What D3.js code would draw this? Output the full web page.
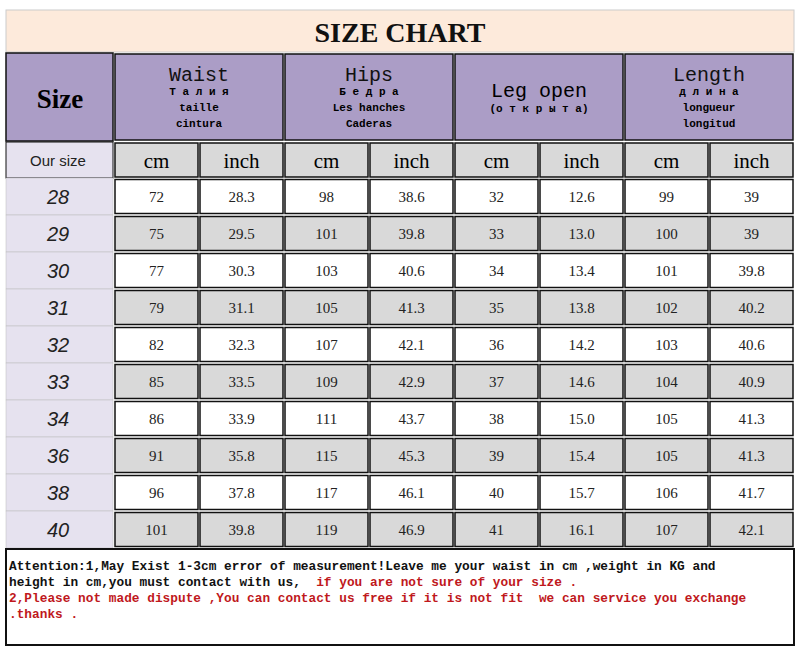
<!DOCTYPE html><html><head><meta charset="utf-8"><script src="https://cdn.jsdelivr.net/npm/d3@7"></script>
<style>body{margin:0;background:#fff}</style></head><body><svg id="c" width="800" height="652"></svg><script>
const sizes=["28","29","30","31","32","33","34","36","38","40"];
const waistCm=[72,75,77,79,82,85,86,91,96,101];
const waistIn=["28.3","29.5","30.3","31.1","32.3","33.5","33.9","35.8","37.8","39.8"];
const hipsCm=[98,101,103,105,107,109,111,115,117,119];
const hipsIn=["38.6","39.8","40.6","41.3","42.1","42.9","43.7","45.3","46.1","46.9"];
const legCm=[32,33,34,35,36,37,38,39,40,41];
const legIn=["12.6","13.0","13.4","13.8","14.2","14.6","15.0","15.4","15.7","16.1"];
const lenCm=[99,100,101,102,103,104,105,105,106,107];
const lenIn=["39","39","39.8","40.2","40.6","40.9","41.3","41.3","41.7","42.1"];
const groups=[["Waist","Т а л и я","taille","cintura"],["Hips","Б е д р а","Les hanches","Caderas"],["Leg  open","(о т к р ы т а)"],["Length","д л и н а","longueur","longitud"]];
const cols=[waistCm,waistIn,hipsCm,hipsIn,legCm,legIn,lenCm,lenIn];
const svg=d3.select("#c");
const x=d3.scaleLinear().domain([0,8]).range([114,794]);
const y=d3.scaleBand().domain(sizes).range([178,548]);
function rect(x0,y0,w,h,f,sw){svg.append("rect").attr("x",x0).attr("y",y0).attr("width",w).attr("height",h).attr("fill",f).attr("stroke","#111").attr("stroke-width",sw||1.5);}
function text(t,cx,cy,o){const e=svg.append("text").attr("x",cx).attr("y",cy).attr("text-anchor","middle").attr("dominant-baseline","central").text(t);for(const k in o)e.attr(k,o[k]);return e;}
svg.append("rect").attr("x",6).attr("y",10).attr("width",788).attr("height",42).attr("fill","#fdeadb").attr("stroke","#ccc");
text("SIZE CHART",400,32,{"font-family":"Liberation Serif","font-weight":"bold","font-size":28,fill:"#111"});
rect(6,53,107,88,"#ab9dc6");
text("Size",60,99,{"font-family":"Liberation Serif","font-weight":"bold","font-size":27});
groups.forEach((g,i)=>{const x0=x(i*2)+1,w=x(i*2+2)-x(i*2)-2;rect(x0,54,w,86,"#ab9dc6");const cx=x0+w/2;
 if(g.length==4){text(g[0],cx,75,{"font-family":"Liberation Mono","font-size":20,fill:"#111"});
  text(g[1],cx,92,{"font-family":"Liberation Mono","font-weight":"bold","font-size":11});
  text(g[2],cx,108,{"font-family":"Liberation Mono","font-weight":"bold","font-size":11});
  text(g[3],cx,124,{"font-family":"Liberation Mono","font-weight":"bold","font-size":11});}
 else{text(g[0],cx,91,{"font-family":"Liberation Mono","font-size":20});text(g[1],cx,109,{"font-family":"Liberation Mono","font-weight":"bold","font-size":11});}
});
rect(6,142,107,36,"#e6e2ef",1);
text("Our size",58,160,{"font-family":"Liberation Sans","font-size":15,fill:"#222"});
d3.range(8).forEach(j=>{rect(x(j)+1,143,x(j+1)-x(j)-2,34,"#d9d9d9");text(j%2?"inch":"cm",(x(j)+x(j+1))/2,161,{"font-family":"Liberation Serif","font-size":21});});
sizes.forEach((s,i)=>{const y0=y(s),h=y.bandwidth();
 svg.append("rect").attr("x",6).attr("y",y0).attr("width",107).attr("height",h).attr("fill","#e6e2ef").attr("stroke","#bbb").attr("stroke-width",0.5);
 text(s,58,y0+h/2,{"font-family":"Liberation Sans","font-style":"italic","font-size":20,fill:"#222"});
 cols.forEach((c,j)=>{rect(x(j)+1,y0+1.5,x(j+1)-x(j)-2,h-3,i%2?"#d9d9d9":"#fff");text(c[i],(x(j)+x(j+1))/2,y0+h/2,{"font-family":"Liberation Serif","font-size":15,fill:"#222"});});
});
svg.append("rect").attr("x",6).attr("y",549).attr("width",788).attr("height",96).attr("fill","#fff").attr("stroke","#111").attr("stroke-width",2);
const ft=[[["Attention:1,May Exist 1-3cm error of measurement!Leave me your waist in cm ,weight in KG and","#111"]],[["height in cm,you must contact with us, ","#111"],[" if you are not sure of your size .","#c0181c"]],[["2,Please not made dispute ,You can contact us free if it is not fit  we can service you exchange","#c0181c"]],[[".thanks .","#c0181c"]]];
ft.forEach((l,i)=>{const t=svg.append("text").attr("x",9).attr("y",570+i*16).attr("font-family","Liberation Mono").attr("font-weight","bold").attr("font-size",12.8).attr("xml:space","preserve");l.forEach(p=>t.append("tspan").attr("fill",p[1]).text(p[0]));});
</script></body></html>
